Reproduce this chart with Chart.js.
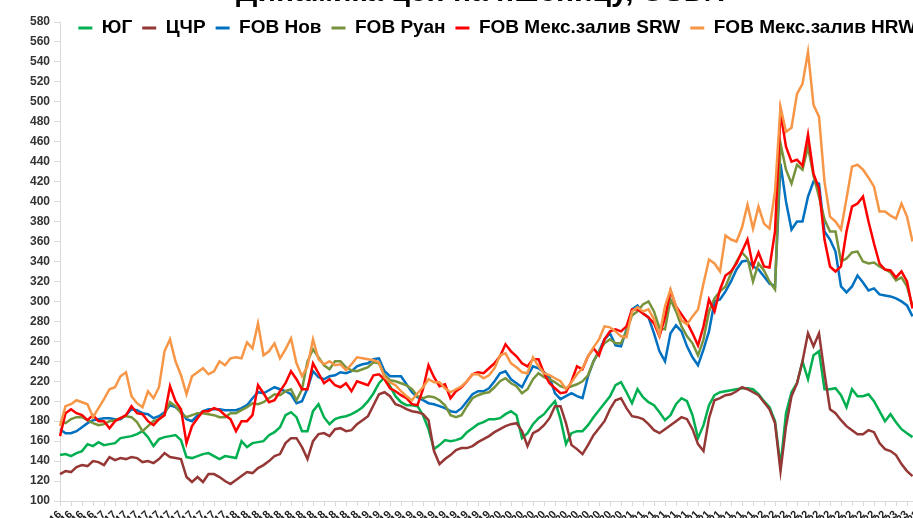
<!DOCTYPE html>
<html>
<head>
<meta charset="utf-8">
<script src="https://cdn.jsdelivr.net/npm/chart.js@4"></script>
<style>
  html, body { margin: 0; padding: 0; background: #fff; overflow: hidden; width: 913px; height: 518px; }
  #wrap { position: absolute; left: 0; top: -25px; width: 950px; height: 576px; }
</style>
</head>
<body>
<div id="wrap"><canvas id="myChart"></canvas></div>
<script>
// semi-monthly dates, 01.09.16 ... 16.04.23
const labels = [];
for (let m = 0; m < 80; m++) {
  const mon = (8 + m) % 12 + 1;
  const yr = 16 + Math.floor((8 + m) / 12);
  const mm = String(mon).padStart(2, "0");
  labels.push("01." + mm + "." + yr, "16." + mm + "." + yr);
}

const yug = [146,147,145,148,150,157,155,159,156,157,158,163,164,165,167,170,164,155,162,164,
  165,166,161,144,143,145,147,148,145,142,145,144,143,160,154,158,159,160,166,169,
  174,186,189,184,170,170,190,197,184,177,182,184,185,187,190,194,200,208,218,224,
  215,205,199,196,196,195,186,172,152,156,161,160,161,163,169,173,177,179,182,182,
  183,187,190,186,163,168,177,183,187,194,200,182,157,168,170,170,176,184,191,198,
  205,216,219,209,198,212,204,199,196,189,181,186,197,203,200,186,163,176,196,206,
  209,210,211,212,213,213,212,207,200,194,180,135,188,209,218,240,222,246,250,212,
  212,213,206,194,212,205,205,207,200,190,180,187,179,172,168,164];

const cchr = [127,130,129,134,136,135,140,139,136,144,141,143,142,144,143,139,140,138,142,148,
  144,143,142,124,119,124,119,127,127,124,120,117,121,125,129,128,133,136,140,145,
  147,158,163,163,154,142,160,167,168,165,172,173,170,171,177,181,185,196,207,209,
  205,197,195,192,190,189,187,181,150,137,142,146,151,153,153,155,159,162,165,169,
  172,175,177,178,170,155,168,171,176,183,195,195,178,156,152,147,156,166,173,180,
  192,201,203,193,185,184,182,177,171,168,172,176,180,184,182,172,157,150,183,201,
  203,206,207,210,214,212,209,206,199,192,178,130,175,205,218,240,268,255,268,228,
  192,188,181,175,171,167,167,171,169,158,152,150,146,137,130,125];

const fobNov = [172,168,168,170,174,178,181,182,183,183,182,182,186,192,191,188,187,183,185,189,
  196,194,190,182,180,186,190,192,192,192,191,191,191,193,196,203,209,208,211,214,
  212,210,207,198,200,213,230,224,222,225,226,229,228,230,235,237,238,242,243,230,
  225,225,225,217,209,204,201,198,197,195,193,190,189,193,200,207,210,210,213,220,
  228,230,222,218,214,225,235,233,229,224,208,202,205,208,205,203,225,240,250,262,
  268,256,255,272,292,296,288,284,268,250,240,268,276,270,255,244,236,252,270,300,
  302,310,320,332,340,341,335,332,325,318,315,438,400,372,380,380,405,420,418,370,
  362,350,315,309,315,326,319,311,313,307,306,305,303,300,296,285];

const fobRuan = [180,178,182,184,184,181,178,176,177,180,181,183,185,184,179,170,175,180,182,187,
  199,195,188,184,186,188,188,187,186,184,184,188,188,191,194,198,197,199,203,207,
  206,210,212,201,212,240,252,244,236,232,240,240,234,231,230,232,234,239,238,226,
  221,220,218,216,212,205,203,205,204,201,196,186,184,186,195,203,206,208,209,214,
  220,223,218,215,208,212,222,228,224,222,219,215,213,215,217,220,226,240,250,258,
  262,258,258,270,286,290,297,300,290,273,272,302,290,275,265,258,246,262,290,303,
  310,315,328,340,349,343,320,338,331,320,312,458,432,418,437,432,455,426,405,382,
  370,370,340,343,349,350,340,338,339,335,332,329,321,324,315,295];

const srw = [165,188,192,188,186,181,186,180,180,173,180,183,186,195,188,187,180,176,182,186,
  215,200,192,158,175,183,190,190,193,191,186,182,170,180,180,186,216,208,199,201,
  210,218,230,222,212,212,238,228,218,222,216,214,218,210,220,218,216,226,227,222,
  213,210,206,203,197,196,212,236,224,215,217,203,210,214,220,227,229,228,233,238,
  245,257,250,245,238,235,242,242,228,218,213,208,209,220,235,232,245,253,246,262,
  270,272,270,275,292,292,288,284,278,265,284,311,295,287,279,268,256,275,302,290,
  312,326,330,338,350,362,335,349,335,334,370,489,455,440,442,436,467,428,413,362,
  335,330,335,370,395,398,405,380,358,338,332,331,324,330,320,293];

const hrw = [175,195,197,201,199,197,184,193,202,212,214,225,229,205,198,194,210,203,214,250,
  262,240,226,207,225,229,233,227,230,240,236,243,244,243,259,253,278,246,250,258,
  243,252,263,238,225,235,262,242,237,240,236,237,231,237,244,243,242,241,239,224,
  219,216,210,205,201,208,214,222,219,219,213,209,212,215,220,227,227,223,226,233,
  246,248,238,234,229,228,244,235,228,226,223,220,212,219,227,233,245,254,262,275,
  274,270,265,264,290,294,290,292,282,266,295,312,295,281,277,285,292,318,342,338,
  330,366,362,360,374,397,373,395,378,373,410,495,470,474,508,518,550,497,485,420,
  385,380,372,403,435,437,432,424,415,390,390,386,383,398,385,360];

Chart.defaults.font.family = "'Liberation Sans', Arial, sans-serif";

// let the legend overlap the top of the plot like the original
const LEGEND_OVERLAP = 25.5;
const legendOverlap = {
  id: "legendOverlap",
  beforeInit(chart) {
    const fit = chart.legend.fit;
    chart.legend.fit = function () {
      fit.bind(chart.legend)();
      this.height -= LEGEND_OVERLAP;
    };
  },
  afterLayout(chart) {
    // give the legend its full box back so its text is not clipped
    chart.legend.height += LEGEND_OVERLAP;
    chart.legend.bottom += LEGEND_OVERLAP;
  },
};

const ctx = document.getElementById("myChart").getContext("2d");
const myChart = new Chart(ctx, {
  type: "line",
  data: {
    labels: labels,
    datasets: [
      { label: "ЮГ", data: yug, borderColor: "#00B050", order: 6 },
      { label: "ЦЧР", data: cchr, borderColor: "#953735", order: 5 },
      { label: "FOB Нов", data: fobNov, borderColor: "#0070C0", order: 4 },
      { label: "FOB Руан", data: fobRuan, borderColor: "#77933C", order: 3 },
      { label: "FOB Мекс.залив SRW", data: srw, borderColor: "#FF0000", order: 2 },
      { label: "FOB Мекс.залив HRW", data: hrw, borderColor: "#F79646", order: 1 },
    ],
  },
  options: {
    responsive: true,
    maintainAspectRatio: false,
    animation: false,
    layout: { padding: { left: 30, right: 15.5, top: 0, bottom: 0 } },
    elements: {
      line: { borderWidth: 2.5, tension: 0, fill: false },
      point: { radius: 0, borderWidth: 3 },
    },
    scales: {
      x: {
        afterFit(scale) { scale.height = 50; },
        grid: { drawOnChartArea: false, tickLength: 5, color: "#d9d9d9" },
        border: { color: "#d9d9d9" },
        ticks: {
          autoSkip: false,
          minRotation: 45,
          maxRotation: 45,
          padding: 2,
          color: "#222",
          font: { size: 11, weight: "bold" },
          callback: (val, idx) => (idx % 2 === 0 ? labels[idx] : null),
        },
      },
      y: {
        min: 100,
        max: 580,
        afterFit(scale) { scale.width = 30; },
        grid: { drawOnChartArea: false, tickLength: 6, color: "#d9d9d9" },
        border: { color: "#d9d9d9" },
        ticks: {
          stepSize: 20,
          padding: 4,
          color: "#333",
          font: { size: 12, weight: "bold" },
        },
      },
    },
    plugins: {
      title: {
        display: true,
        text: "Динамика цен на пшеницу, USD/т",
        color: "#000",
        font: { size: 30, weight: "bold" },
        padding: { top: 0, bottom: -2.5 },
      },
      legend: {
        display: true,
        position: "top",
        fullSize: false,
        labels: {
          usePointStyle: true,
          pointStyle: "line",
          pointStyleWidth: 14,
          padding: 10,
          color: "#000",
          font: { size: 19, weight: "bold" },
          sort: (a, b) => a.datasetIndex - b.datasetIndex,
        },
      },
      tooltip: { enabled: false },
    },
  },
  plugins: [legendOverlap],
});
</script>
</body>
</html>
